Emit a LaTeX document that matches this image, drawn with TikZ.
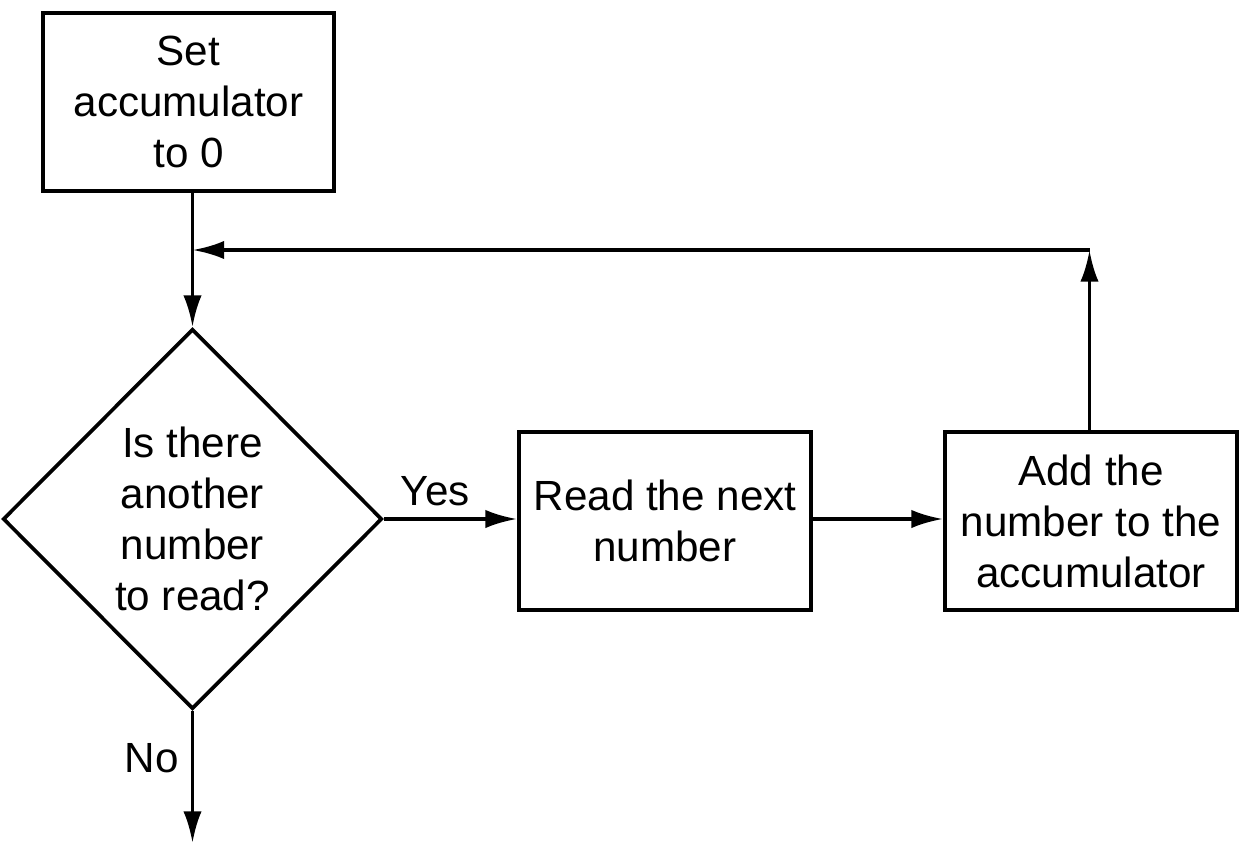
\documentclass[tikz,border=0pt]{standalone}
\usepackage{fontspec}
\setmainfont{Liberation Sans}
\usetikzlibrary{shapes.geometric,arrows.meta}
\begin{document}
\begin{tikzpicture}[x=0.01cm,y=-0.01cm,line width=1.05pt,font=\fontsize{12}{14.5}\selectfont]
\useasboundingbox (0,0) rectangle (1250,848);
\node[draw, align=center, minimum width=2.91cm, minimum height=1.78cm] (set) at (188.5,102) {Set\\accumulator\\to 0};
\node[draw, diamond, align=center, inner sep=0pt, minimum width=3.79cm, minimum height=3.80cm] (test) at (192.5,519) {Is there\\another\\number\\to read?};
\node[draw, align=center, minimum width=2.92cm, minimum height=1.78cm] (read) at (665,521) {Read the next\\number};
\node[draw, align=center, minimum width=2.92cm, minimum height=1.78cm] (add) at (1091,521) {Add the\\number to the\\accumulator};
\coordinate (corner) at (1089.5,250);
\coordinate (join) at (192.5,250);
\coordinate (out) at (192.5,843);

\path[draw,-{Latex[length=9pt,width=5.2pt]}] (set.south -| test.north) -- (test.north);
\path[draw,-{Latex[length=9pt,width=5.2pt]}] (test.east) -- node[pos=0.385, above=0pt] {Yes} (test.east -| read.west);
\path[draw,-{Latex[length=9pt,width=5.2pt]}] (read.east |- test.east) -- (add.west |- test.east);
\path[draw,-{Latex[length=9pt,width=5.2pt]}] (add.north -| corner) -- (corner);
\path[draw,-{Latex[length=9pt,width=5.2pt]}] (corner) -- (join);
\path[draw,-{Latex[length=9pt,width=5.2pt]}] (test.south) -- node[pos=0.36, left=0pt] {No} (out);
\end{tikzpicture}
\end{document}
